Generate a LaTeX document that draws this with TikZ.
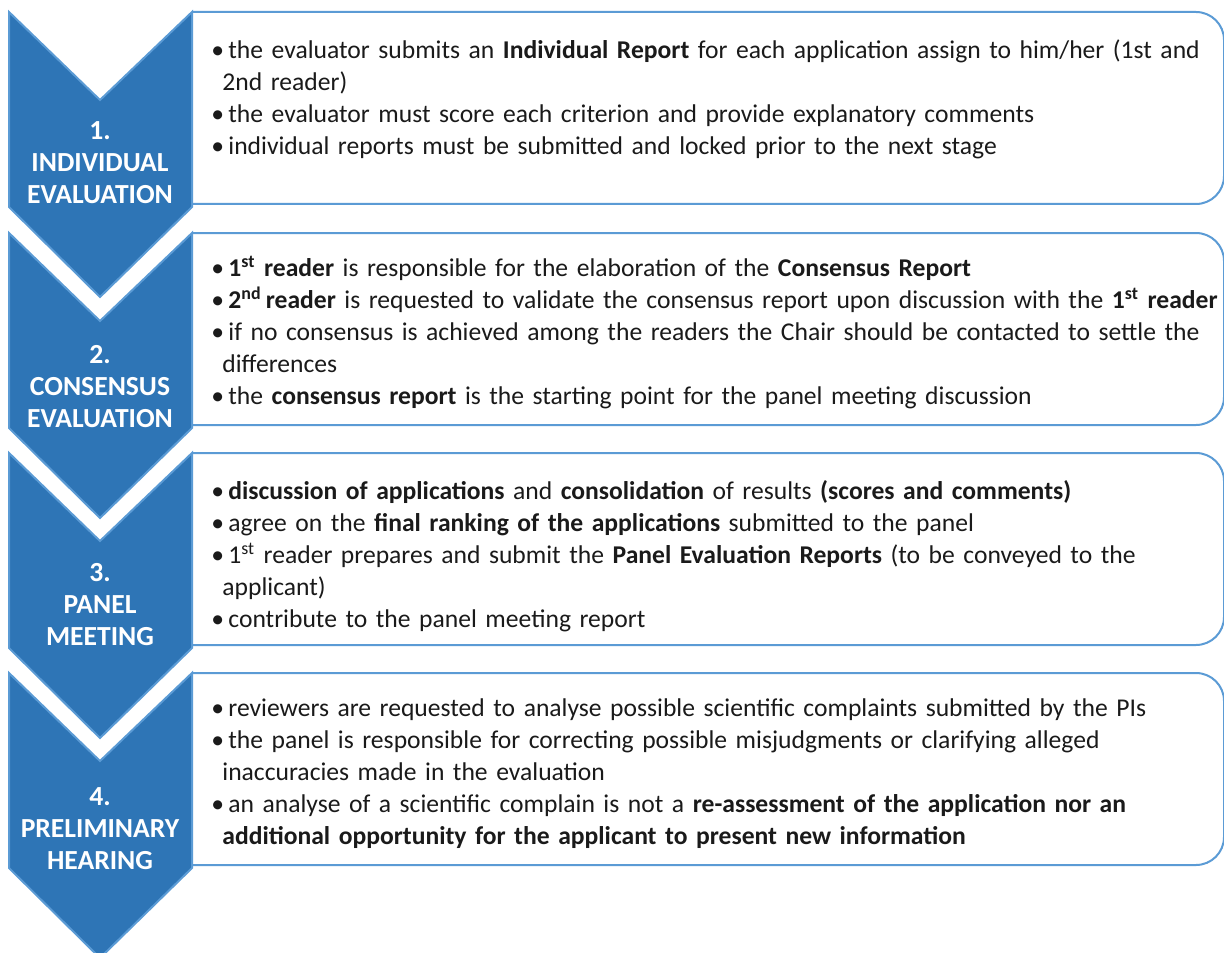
\documentclass[tikz,border=0pt]{standalone}
\usepackage{fontspec}
\setmainfont{Carlito}
\usepackage{tikz}
\usetikzlibrary{positioning}
\definecolor{chevblue}{HTML}{2E75B6}
\definecolor{edgeblue}{HTML}{5B9BD5}
\definecolor{inkgray}{HTML}{1A1A1A}
\tikzstyle{flow}=[
  x=0.5pt,y=-0.5pt
]
\tikzstyle{chevron}=[
  fill=chevblue,draw=edgeblue,line width=1pt,line join=miter
]
\tikzstyle{panel}=[
  draw=edgeblue,line width=1pt,fill=white
]
\tikzstyle{stage}=[
  text=white,font=\fontsize{13.8}{16}\selectfont\bfseries,text width=95pt,align=center,inner sep=0pt,anchor=base
]
\tikzstyle{items}=[
  text=inkgray,font=\fontsize{12.8}{16}\selectfont,text width=510pt,align=left,inner sep=0pt,anchor=base west
]
\newcommand{\itm}{\makebox[8.5pt][l]{\textbullet}}
\newcommand{\cnt}{\hspace*{5.5pt}}

\begin{document}
\begin{tikzpicture}[flow]
    \useasboundingbox (0,0) rectangle (1224,952);
    \foreach \y in {12,233,453,673} {
      \draw [panel] (192,\y) -- (1196,\y) arc[start angle=-90,end angle=0,radius=28]
        -- (1224,\y+164) arc[start angle=0,end angle=90,radius=28] -- (192,\y+192);
      \draw [chevron] (9,\y) -- (100,\y+88) -- (192,\y) -- (192,\y+195)
        -- (100,\y+285) -- (9,\y+195) -- cycle;
    }
    \node (s1) at (100,140) [stage] {1.\\INDIVIDUAL\\EVALUATION};
    \node (s2) at (100,363) [stage] {2.\\CONSENSUS\\EVALUATION};
    \node (s3) at (100,581) [stage] {3.\\PANEL\\MEETING};
    \node (s4) at (100,805) [stage] {4.\\PRELIMINARY\\HEARING};
    \node (l1) at (211,59) [items] {%
      \itm the evaluator submits an \textbf{Individual Report} for each application assign to him/her (1st and\\
      \cnt 2nd reader)\\
      \itm the evaluator must score each criterion and provide explanatory comments\\
      \itm individual reports must be submitted and locked prior to the next stage};
    \node (l2) at (211,276) [items] {%
      \itm \textbf{1\textsuperscript{st} reader} is responsible for the elaboration of the \textbf{Consensus Report}\\
      \itm \textbf{2\textsuperscript{nd}\,reader} is requested to validate the consensus report upon discussion with the \textbf{1\textsuperscript{st} reader}\\
      \itm if no consensus is achieved among the readers the Chair should be contacted to settle the\\
      \cnt differences\\
      \itm the \textbf{consensus report} is the starting point for the panel meeting discussion};
    \node (l3) at (211,499) [items] {%
      \itm \textbf{discussion of applications} and \textbf{consolidation} of results \textbf{(scores and comments)}\\
      \itm agree on the \textbf{final ranking of the applications} submitted to the panel\\
      \itm 1\textsuperscript{st} reader prepares and submit the \textbf{Panel Evaluation Reports} (to be conveyed to the\\
      \cnt applicant)\\
      \itm contribute to the panel meeting report};
    \node (l4) at (211,716) [items] {%
      \itm reviewers are requested to analyse possible scientific complaints submitted by the PIs\\
      \itm the panel is responsible for correcting possible misjudgments or clarifying alleged\\
      \cnt inaccuracies made in the evaluation\\
      \itm an analyse of a scientific complain is not a \textbf{re-assessment of the application nor an}\\
      \cnt \textbf{additional opportunity for the applicant to present new information}};
\end{tikzpicture}
\end{document}
